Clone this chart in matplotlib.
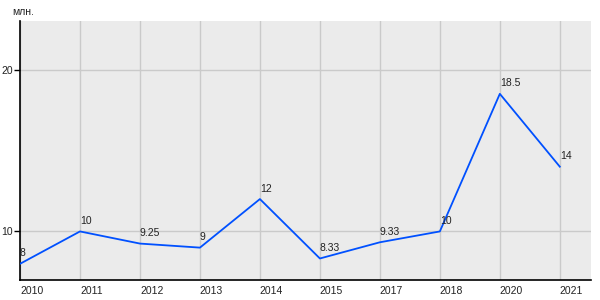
import matplotlib
matplotlib.use("Agg")
import matplotlib.pyplot as plt

# данные
years = ['2010', '2011', '2012', '2013', '2014', '2015', '2017', '2018', '2020', '2021']
values = [8, 10, 9.25, 9, 12, 8.33, 9.33, 10, 18.5, 14]
labels = ['8', '10', '9.25', '9', '12', '8.33', '9.33', '10', '18.5', '14']

plt.rcParams['font.family'] = ['Liberation Sans', 'DejaVu Sans']

fig = plt.figure(figsize=(6, 3), dpi=100)
ax = fig.add_axes([20 / 600, 1 - 280 / 300, 571 / 600, 259 / 300])
ax.set_facecolor('#ebebeb')

x = list(range(len(years)))
ax.plot(x, values, color='#0050ff', linewidth=1.3, zorder=3)

for xi, v, lab in zip(x, values, labels):
    ax.annotate(lab, (xi, v), xytext=(0, 4), textcoords='offset points',
                ha='left', va='bottom', fontsize=7.5, color='#222222', zorder=4)

ax.set_xlim(0, 9.52)
ax.set_ylim(7, 23)
ax.set_xticks(x)
ax.set_xticklabels(years, ha='left')
ax.set_yticks([10, 20])
ax.tick_params(axis='x', length=0, labelsize=7.5, pad=4, colors='#222222')
ax.tick_params(axis='y', length=4, width=1, labelsize=7.5, pad=1, colors='#222222')
ax.tick_params(axis='y', color='black')
ax.grid(True, color='#cacaca', linewidth=1)
ax.set_axisbelow(True)

for s in ['top', 'right']:
    ax.spines[s].set_visible(False)
ax.spines['left'].set_color('black')
ax.spines['bottom'].set_color('black')
ax.spines['left'].set_linewidth(1.2)
ax.spines['bottom'].set_linewidth(1.2)

fig.text(12 / 600, 1 - 12 / 300, 'млн.', fontsize=7.5, color='#222222', va='center', ha='left')

plt.savefig('out.png', dpi=100)
